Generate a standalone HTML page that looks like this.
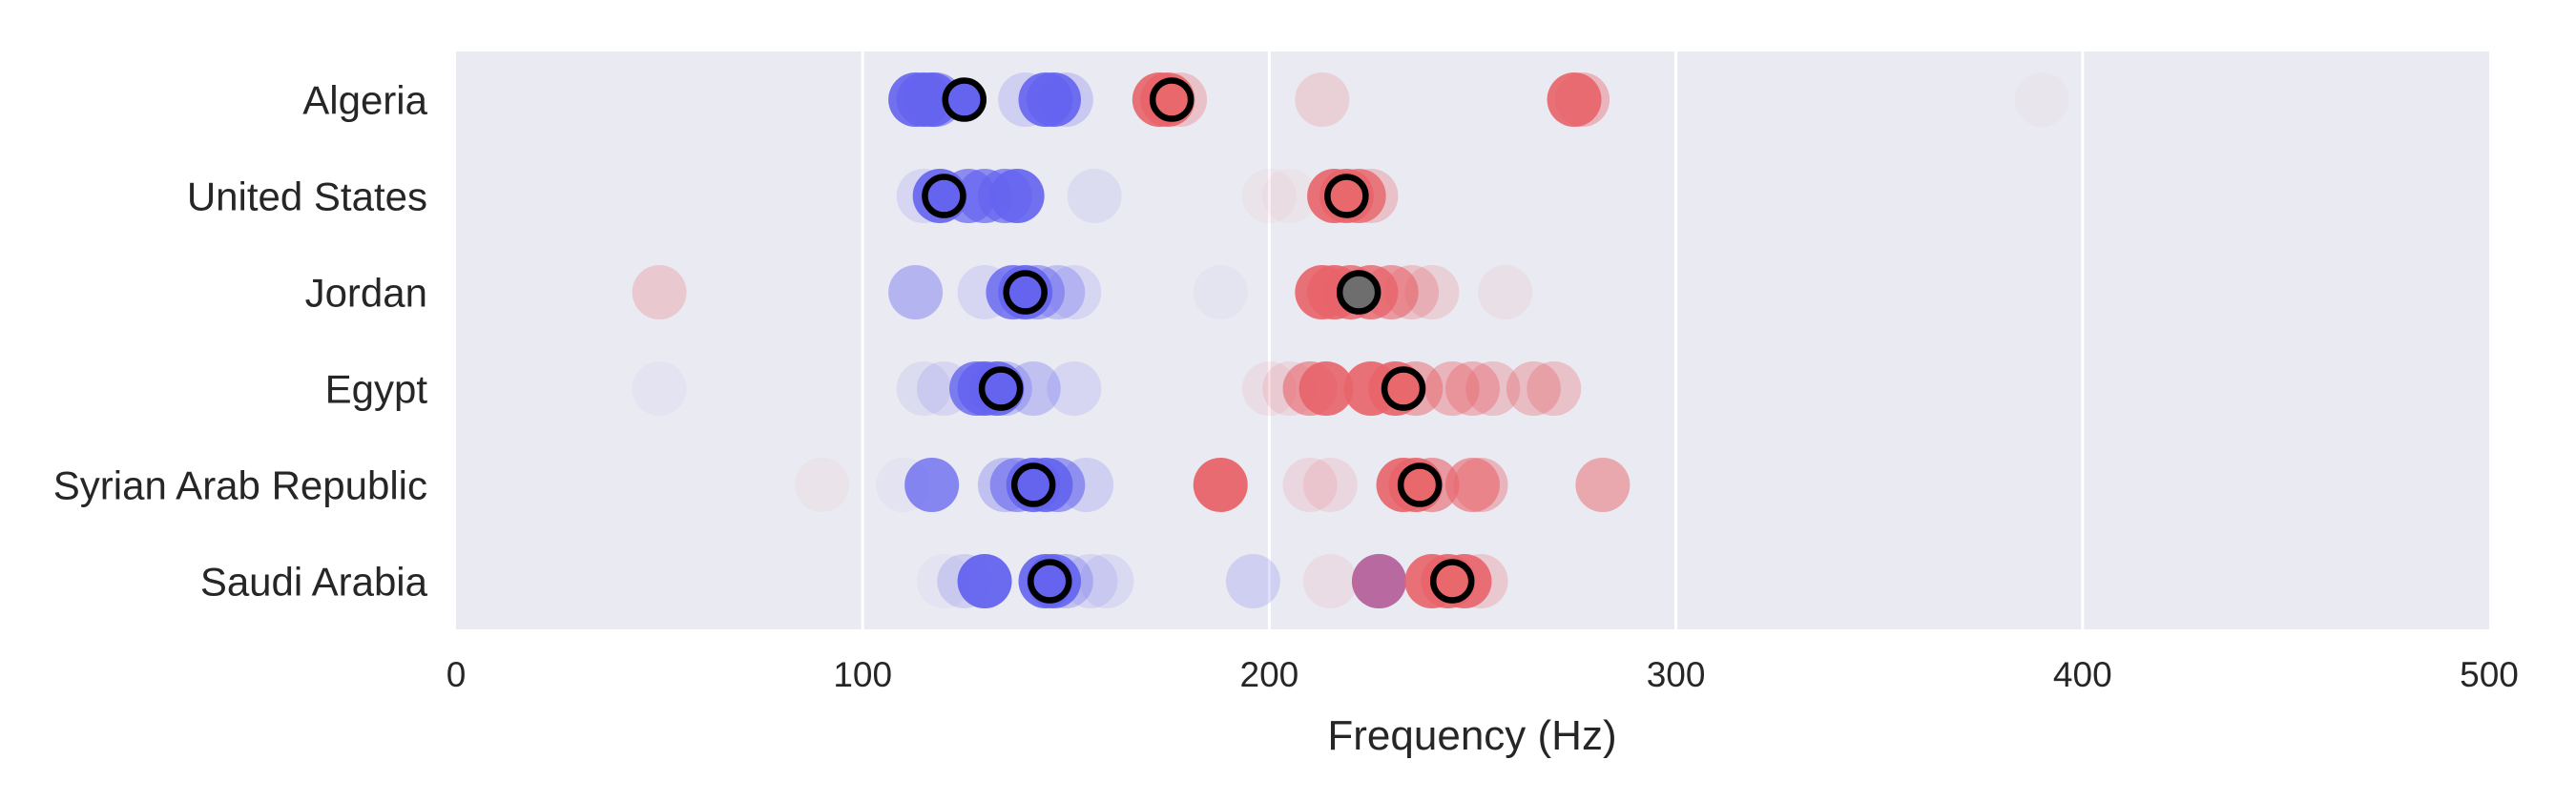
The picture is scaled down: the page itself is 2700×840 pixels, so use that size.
<!DOCTYPE html>
<html><head><meta charset="utf-8"><style>
html,body{margin:0;padding:0;background:#fff;}
svg{display:block;font-family:"Liberation Sans",Arial,sans-serif;}
</style></head><body>
<svg id="chart" width="2700" height="840" viewBox="0 0 2700 840" xmlns="http://www.w3.org/2000/svg">
<rect x="478" y="54" width="2131" height="606" fill="#eaeaf2"/>
<g id="grid"></g>
<g id="marks"></g>
<g id="means"></g>
<g id="xticks" font-size="37" fill="#262626" text-anchor="middle"></g>
<g id="yticks" font-size="42" fill="#262626" text-anchor="end"></g>
<text x="1543" y="786" font-size="44" fill="#262626" text-anchor="middle">Frequency (Hz)</text>
</svg>
<script>
const categories = ["Algeria","United States","Jordan","Egypt","Syrian Arab Republic","Saudi Arabia"];
const xTicks = [0,100,200,300,400,500];
const blueVals = [
  [113,115,117,118,140,145,147,150],
  [115,119,126,130,135,138,157],
  [113,130,137,140,143,148,152,188],
  [50,115,120,128,130,133,135,142,152],
  [110,117,135,138,142,145,148,155],
  [120,125,130,145,147,150,156,160,196,227]
];
const blueAlpha = [
  [0.9,0.9,0.9,0.6,0.2,0.9,0.9,0.25],
  [0.15,0.9,0.7,0.7,0.7,0.9,0.1],
  [0.4,0.15,0.8,0.9,0.5,0.3,0.15,0.04],
  [0.05,0.1,0.15,0.8,0.9,0.9,0.3,0.3,0.15],
  [0.05,0.75,0.3,0.6,0.9,0.9,0.6,0.2],
  [0.05,0.2,0.95,0.9,0.9,0.3,0.15,0.12,0.2,0.9]
];
const redVals = [
  [173,175,178,213,275,277,390],
  [200,205,216,219,222,225],
  [50,213,216,220,225,230,235,240,258],
  [200,205,210,214,225,231,236,245,250,255,265,270],
  [90,188,210,215,233,236,240,250,252,282],
  [215,227,240,244,248,252]
];
const redAlpha = [
  [0.9,0.9,0.3,0.2,0.9,0.4,0.03],
  [0.05,0.05,0.9,0.9,0.8,0.3],
  [0.25,0.9,0.9,0.8,0.8,0.6,0.3,0.2,0.08],
  [0.1,0.15,0.6,0.9,0.9,0.9,0.5,0.4,0.4,0.3,0.35,0.3],
  [0.05,0.95,0.15,0.15,0.9,0.9,0.6,0.6,0.4,0.5],
  [0.1,0.6,0.9,0.9,0.9,0.25]
];
const blueMeans = [125,120,140,134,142,146];
const redMeans = [176,219,222,233,237,245];
const redMeanFill = ["#e8686b","#e8686b","#6e6e6e","#e8686b","#e8686b","#e8686b"];

const NS="http://www.w3.org/2000/svg";
const X0=478,X1=2609,Y0=54,Y1=660;
function xs(v){return X0+(v-0)/(500-0)*(X1-X0);}
function ys(i){const step=(Y1-Y0)/categories.length;return Y0+step*(i+0.5);}
function mk(tag,attrs,parent){const e=document.createElementNS(NS,tag);for(const k in attrs)e.setAttribute(k,attrs[k]);parent.appendChild(e);return e;}
const grid=document.getElementById('grid'),marks=document.getElementById('marks'),means=document.getElementById('means');
const xt=document.getElementById('xticks'),yt=document.getElementById('yticks');
xTicks.forEach(t=>{
  if(t>0&&t<500){const l=mk('line',{x1:xs(t),x2:xs(t),y1:Y0,y2:Y1,stroke:'#ffffff','stroke-width':3},grid);
  
  }
  const tx=mk('text',{x:xs(t),y:720},xt);tx.textContent=t;
  
  
});
categories.forEach((c,i)=>{
  const tx=mk('text',{x:448,y:ys(i)+15},yt);tx.textContent=c;
  
  
});
categories.forEach((c,i)=>{
  blueVals[i].forEach((v,j)=>{
    const e=mk('circle',{cx:xs(v),cy:ys(i),r:28.5,fill:'#6464ef','fill-opacity':blueAlpha[i][j]},marks);
    
    
  });
  redVals[i].forEach((v,j)=>{
    const e=mk('circle',{cx:xs(v),cy:ys(i),r:28.5,fill:'#e8646a','fill-opacity':redAlpha[i][j]},marks);
    
    
  });
});
categories.forEach((c,i)=>{
  const b=mk('circle',{cx:xs(blueMeans[i]),cy:ys(i),r:20,fill:'#6464ef',stroke:'#000','stroke-width':6.5},means);
  
  
  const r=mk('circle',{cx:xs(redMeans[i]),cy:ys(i),r:20,fill:redMeanFill[i],stroke:'#000','stroke-width':6.5},means);
  
  
});
</script>
</body></html>
